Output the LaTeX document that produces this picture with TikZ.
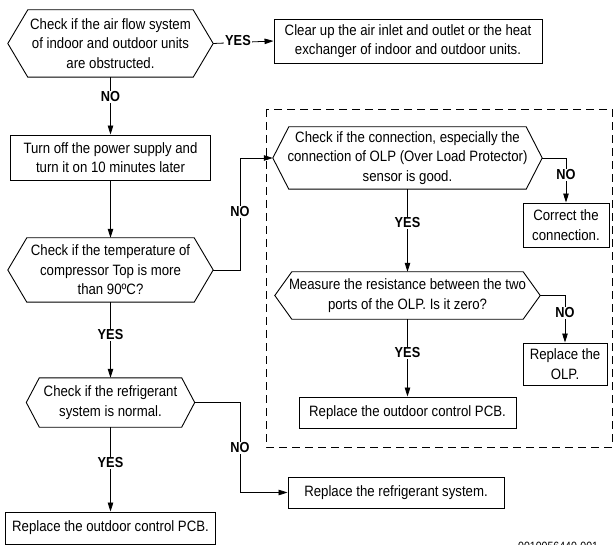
\documentclass[tikz,border=0pt]{standalone}
\usepackage{fontspec}
\setmainfont{Liberation Sans}[FakeStretch=0.88]
\usetikzlibrary{arrows.meta,calc}
\newcommand\hexdraw[2]{\draw[shapeline] ([xshift=#2]#1.north west) -- ([xshift=-#2]#1.north east) -- (#1.east) -- ([xshift=-#2]#1.south east) -- ([xshift=#2]#1.south west) -- (#1.west) -- cycle;}
\begin{document}
\begin{tikzpicture}[x=1pt,y=-1pt,
  txt/.style={font=\fontsize{15}{19.5}\selectfont, align=center, inner sep=0pt},
  box/.style={txt, draw, line width=0.9pt},
  hex/.style={txt},
  shapeline/.style={line width=0.9pt, line join=miter},
  arr/.style={line width=0.8pt, -{Triangle[length=9pt,width=5.5pt]}},
  conn/.style={line width=0.8pt},
  lbl/.style={font=\fontsize{14.5}{16}\selectfont\bfseries, fill=white, inner sep=1pt},
  dashbox/.style={line width=0.8pt, dash pattern=on 8pt off 5pt}
]
\useasboundingbox (0,0) rectangle (613,545);

% dashed frame
\draw[dashbox] (266,109) rectangle (612,447);

% left column
\node[hex, minimum width=205, minimum height=67] (h1) at (110.5,43.5)
  {Check if the air flow system\\of indoor and outdoor units\\are obstructed.};
\hexdraw{h1}{20}
\node[box, minimum width=268, minimum height=44] (b1) at (408,41)
  {Clear up the air inlet and outlet or the heat\\exchanger of indoor and outdoor units.};
\node[box, minimum width=200, minimum height=45] (b2) at (110.5,157.5)
  {Turn off the power supply and\\turn it on 10 minutes later};
\node[hex, minimum width=205, minimum height=64] (h3) at (110.5,270)
  {Check if the temperature of\\compressor Top is more\\than 90ºC?};
\hexdraw{h3}{19}
\node[hex, minimum width=168, minimum height=49] (h6) at (110.5,402.5)
  {Check if the refrigerant\\system is normal.};
\hexdraw{h6}{13}
\node[box, minimum width=210, minimum height=32] (p2) at (110.5,528)
  {Replace the outdoor control PCB.};
\node[box, minimum width=216, minimum height=31] (rf) at (396,492.5)
  {Replace the refrigerant system.};

% dashed region
\node[hex, minimum width=269, minimum height=62] (h4) at (407.5,158)
  {Check if the connection, especially the\\connection of OLP (Over Load Protector)\\sensor is good.};
\hexdraw{h4}{16}
\node[box, minimum width=86, minimum height=44] (cr) at (566,225)
  {Correct the\\connection.};
\node[hex, minimum width=265, minimum height=47] (h5) at (407.5,295.5)
  {Measure the resistance between the two\\ports of the OLP. Is it zero?};
\hexdraw{h5}{17}
\node[box, minimum width=84, minimum height=42] (ol) at (565,364)
  {Replace the\\OLP.};
\node[box, minimum width=217, minimum height=31] (p1) at (407.5,412.5)
  {Replace the outdoor control PCB.};

% connectors
\coordinate (cx) at (240,0);
\draw[arr] (h1.east) -- (b1.west);
\draw[arr] (h1.south) -- (b2.north);
\draw[arr] (b2.south) -- (h3.north);
\draw[arr] (h3.east) -- (h3.east -| cx) -- (cx |- h4.west) -- (h4.west);
\draw[arr] (h4.east) -| (cr.north);
\draw[arr] (h4.south) -- (h5.north);
\draw[arr] (h5.east) -| (ol.north);
\draw[arr] (h5.south) -- (p1.north);
\draw[arr] (h3.south) -- (h6.north);
\draw[arr] (h6.south) -- (p2.north);
\draw[arr] (h6.east) -- (h6.east -| cx) -- (cx |- rf.west) -- (rf.west);

% labels
\node[lbl] (l1) at (238,41) {YES};
\node[lbl] (l2) at (110.5,97) {NO};
\node[lbl] (l3) at (240,212) {NO};
\node[lbl] (l4) at (566,175) {NO};
\node[lbl] (l5) at (407.5,223) {YES};
\node[lbl] (l6) at (565,313) {NO};
\node[lbl] (l7) at (407.5,353) {YES};
\node[lbl] (l8) at (110.5,335) {YES};
\node[lbl] (l9) at (110.5,463) {YES};
\node[lbl] (l10) at (240,448) {NO};

% figure id (cut at the bottom edge)
\node[font=\fontsize{12}{14}\selectfont, anchor=base west, inner sep=0pt] (fid) at (518,550) {0010056440-001};
\end{tikzpicture}
\end{document}
